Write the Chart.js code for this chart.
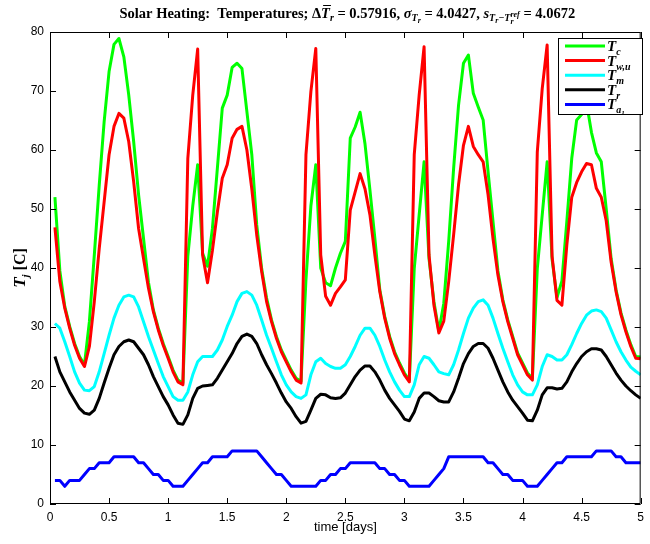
<!DOCTYPE html>
<html>
<head>
<meta charset="utf-8">
<script src="https://cdn.jsdelivr.net/npm/chart.js@4/dist/chart.umd.min.js"></script>
<style>
  html, body { margin: 0; padding: 0; background: #fff; }
  #wrap { width: 650px; height: 544px; }
</style>
</head>
<body>
<div id="wrap"><canvas id="tempChart" width="650" height="544"></canvas></div>
<script>
// hourly samples, 1 h .. 120 h (in days)
const timeDays = Array.from({ length: 120 }, (_, i) => (i + 1) / 24);

const seriesNames = ['c', 'w,u', 'm', 'r', 'a1'];

const tc = [
  52.0, 39.5, 33.5, 30.1, 27.2, 25.0, 23.6, 30.9, 42.2, 54.0,
  64.8, 73.3, 77.9, 78.9, 75.8, 69.3, 61.4, 52.4, 45.0, 37.6,
  32.9, 29.8, 27.2, 25.0, 22.7, 21.0, 20.5, 42.0, 50.5, 57.5,
  42.5, 40.3, 46.7, 56.9, 67.1, 69.3, 74.0, 74.7, 73.8, 66.5,
  59.2, 47.3, 39.9, 34.9, 31.2, 28.4, 26.1, 24.4, 22.7, 21.3,
  20.8, 38.0, 50.5, 57.5, 40.0, 37.5, 37.0, 40.0, 42.5, 44.5,
  62.0, 63.9, 66.4, 61.0, 53.2, 45.0, 36.3, 31.8, 28.4, 25.8,
  23.9, 22.2, 21.0, 39.9, 49.0, 58.0, 41.6, 34.3, 29.3, 34.0,
  44.5, 56.9, 67.6, 74.7, 76.1, 69.6, 67.3, 65.1, 56.3, 47.9,
  39.5, 34.6, 31.2, 28.4, 25.6, 23.9, 22.2, 21.3, 39.9, 49.0,
  58.0, 41.5, 35.0, 37.8, 47.9, 58.6, 65.1, 66.0, 68.0, 63.0,
  59.5, 58.0, 50.0, 41.6, 36.3, 32.4, 29.5, 27.0, 25.0, 24.9
];

const twu = [
  46.9, 37.7, 33.2, 29.8, 26.9, 24.7, 23.3, 26.7, 34.3, 43.3,
  51.2, 59.2, 64.0, 66.2, 65.4, 61.4, 54.6, 46.7, 41.6, 36.6,
  32.6, 29.5, 26.9, 24.7, 22.4, 20.7, 20.2, 58.6, 69.3, 77.1,
  42.2, 37.5, 43.0, 49.5, 55.2, 57.5, 62.0, 63.5, 64.0, 60.0,
  53.4, 45.6, 39.4, 34.3, 30.9, 28.1, 25.8, 24.1, 22.4, 21.0,
  20.5, 59.2, 69.9, 77.2, 42.2, 35.2, 33.7, 35.7, 36.8, 38.0,
  49.8, 52.9, 56.0, 53.4, 49.0, 42.2, 36.0, 31.5, 28.1, 25.5,
  23.6, 21.9, 20.7, 59.2, 69.3, 77.5, 42.2, 33.7, 29.0, 31.0,
  37.7, 45.6, 54.1, 60.8, 64.0, 60.6, 59.2, 58.0, 52.4, 45.0,
  38.8, 34.3, 30.9, 28.1, 25.3, 23.6, 21.9, 21.0, 59.7, 70.4,
  77.8, 42.0, 34.5, 33.7, 43.9, 52.0, 54.5, 56.3, 57.7, 57.5,
  53.5, 52.0, 48.0, 41.0, 36.0, 32.1, 29.2, 26.7, 24.7, 24.6
];

const tm = [
  30.6, 29.8, 27.5, 25.0, 22.4, 20.5, 19.3, 19.2, 19.9, 22.4,
  25.5, 28.6, 31.5, 33.7, 35.1, 35.4, 35.1, 33.4, 30.9, 28.4,
  26.1, 23.8, 21.6, 19.9, 18.2, 17.6, 17.6, 19.0, 21.9, 24.1,
  25.0, 25.0, 25.0, 26.1, 27.8, 30.1, 32.0, 34.3, 35.7, 36.0,
  35.4, 33.7, 31.2, 28.6, 26.4, 24.1, 21.9, 20.2, 19.0, 18.2,
  17.9, 18.5, 21.9, 24.1, 24.7, 23.8, 23.3, 23.0, 23.0, 23.6,
  25.0, 26.7, 28.6, 29.8, 29.8, 28.6, 26.7, 24.4, 22.4, 20.7,
  19.3, 18.2, 18.2, 20.2, 23.6, 25.0, 24.7, 23.6, 22.4, 22.1,
  21.9, 23.6, 26.1, 28.9, 31.5, 33.2, 34.3, 34.6, 33.7, 31.5,
  28.9, 26.4, 24.1, 21.9, 20.2, 19.0, 18.5, 18.5, 20.2, 23.3,
  25.3, 25.0, 24.4, 24.4, 25.3, 27.0, 28.9, 30.6, 32.0, 32.7,
  32.9, 32.6, 31.5, 29.5, 27.5, 25.8, 24.4, 23.2, 22.5, 21.9
];

const tr = [
  25.0, 22.4, 20.7, 19.0, 17.6, 16.2, 15.4, 15.2, 15.9, 17.9,
  20.5, 23.0, 25.3, 26.7, 27.5, 27.8, 27.5, 26.4, 25.3, 23.6,
  21.6, 19.9, 18.2, 16.8, 15.1, 13.7, 13.5, 15.1, 17.9, 19.6,
  20.0, 20.1, 20.2, 21.3, 22.7, 24.1, 25.5, 27.2, 28.4, 28.8,
  28.4, 27.2, 25.3, 23.6, 22.1, 20.5, 18.8, 17.3, 16.2, 14.8,
  13.7, 14.0, 15.9, 17.9, 18.6, 18.5, 18.0, 17.9, 18.0, 18.8,
  20.2, 21.6, 22.7, 23.4, 23.4, 22.4, 21.0, 19.3, 17.9, 16.8,
  15.7, 14.4, 14.1, 15.6, 17.9, 18.8, 18.8, 18.2, 17.5, 17.3,
  17.3, 19.0, 21.3, 23.8, 25.5, 26.7, 27.2, 27.2, 26.4, 24.7,
  22.7, 20.7, 19.0, 17.6, 16.5, 15.4, 14.2, 14.1, 15.9, 18.5,
  19.7, 19.7, 19.5, 19.6, 20.7, 22.4, 23.8, 25.0, 25.8, 26.3,
  26.3, 26.1, 25.0, 23.6, 22.2, 21.0, 20.0, 19.2, 18.5, 17.9
];

const ta1 = [
  4, 4, 3, 4, 4, 4, 5, 6, 6, 7,
  7, 7, 8, 8, 8, 8, 8, 7, 7, 6,
  5, 5, 4, 4, 3, 3, 3, 4, 5, 6,
  7, 7, 8, 8, 8, 8, 9, 9, 9, 9,
  9, 9, 8, 7, 6, 5, 5, 4, 3, 3,
  3, 3, 3, 3, 4, 4, 5, 5, 6, 6,
  7, 7, 7, 7, 7, 7, 6, 6, 5, 5,
  4, 4, 3, 3, 3, 3, 3, 4, 5, 6,
  8, 8, 8, 8, 8, 8, 8, 8, 7, 7,
  6, 5, 5, 4, 4, 4, 3, 3, 3, 4,
  5, 6, 7, 7, 8, 8, 8, 8, 8, 8,
  9, 9, 9, 9, 8, 8, 7, 7, 7, 7
];

const yTicks = [0, 10, 20, 30, 40, 50, 60, 70, 80];
const xTicks = [0, 0.5, 1, 1.5, 2, 2.5, 3, 3.5, 4, 4.5, 5];

const colors = ['#00ff00', '#ff0000', '#00ffff', '#000000', '#0000ff'];
const allSeries = [tc, twu, tm, tr, ta1];

const SERIF = "'Liberation Serif', 'DejaVu Serif', serif";
const SANS = "'Liberation Sans', Arial, sans-serif";

function toPoints(vals) {
  return vals.map((v, i) => ({ x: timeDays[i], y: v }));
}

// lay out a list of text runs (for sub/superscripts)
function layoutRuns(ctx, runs) {
  let x = 0, prevStart = 0, prevW = 0;
  const placed = [];
  for (const r of runs) {
    ctx.font = r.f;
    const w = ctx.measureText(r.t).width;
    let sx;
    if (r.over) {
      sx = prevStart;
      x = Math.max(prevStart + prevW, sx + w);
    } else {
      sx = x;
      x += w;
    }
    placed.push(Object.assign({}, r, { x: sx, w: w }));
    prevStart = sx; prevW = w;
  }
  return { placed: placed, width: x };
}

function drawRuns(ctx, runs, x0, y0, align) {
  const lay = layoutRuns(ctx, runs);
  let ox = x0;
  if (align === 'center') ox = x0 - lay.width / 2;
  ctx.fillStyle = '#000';
  ctx.textBaseline = 'alphabetic';
  ctx.textAlign = 'left';
  for (const r of lay.placed) {
    ctx.font = r.f;
    ctx.fillText(r.t, ox + r.x, y0 + (r.dy || 0));
    if (r.bar) {
      ctx.beginPath();
      ctx.lineWidth = 1;
      ctx.strokeStyle = '#000';
      ctx.moveTo(ox + r.x + 2, y0 - 12.5);
      ctx.lineTo(ox + r.x + r.w + 1, y0 - 12.5);
      ctx.stroke();
    }
  }
}

const B13 = 'bold 14.5px ' + SERIF;
const BI13 = 'bold italic 14.5px ' + SERIF;
const BI9 = 'bold italic 10px ' + SERIF;
const BI7 = 'bold italic 8px ' + SERIF;

const titleRuns = [
  { t: 'Solar Heating:  Temperatures; ', f: B13 },
  { t: '\u0394', f: B13 },
  { t: 'T', f: BI13, bar: true },
  { t: 'r', f: BI9, dy: 3 },
  { t: ' = 0.57916, ', f: B13 },
  { t: '\u03c3', f: BI13 },
  { t: 'T', f: BI9, dy: 3 },
  { t: 'r', f: BI7, dy: 5 },
  { t: ' = 4.0427, ', f: B13 },
  { t: 's', f: BI13 },
  { t: 'T', f: BI9, dy: 3 },
  { t: 'r', f: BI7, dy: 5 },
  { t: '\u2212T', f: BI9, dy: 3 },
  { t: 'ref', f: BI7, dy: -1 },
  { t: 'r', f: BI7, dy: 6, over: true },
  { t: ' = 4.0672', f: B13 }
];

const decorPlugin = {
  id: 'decor',
  afterDatasetsDraw(chart) {
    const ctx = chart.ctx;
    const a = chart.chartArea;
    const xs = chart.scales.x, ys = chart.scales.y;
    ctx.save();
    ctx.strokeStyle = '#000';
    ctx.lineWidth = 1;
    ctx.beginPath();
    ctx.rect(a.left + 0.5, a.top + 0.5, a.right - a.left - 1, a.bottom - a.top - 1);
    // inside ticks on all four sides
    xTicks.forEach(v => {
      const px = Math.round(xs.getPixelForValue(v)) + 0.5;
      ctx.moveTo(px, a.bottom); ctx.lineTo(px, a.bottom - 6);
      ctx.moveTo(px, a.top); ctx.lineTo(px, a.top + 6);
    });
    yTicks.forEach(v => {
      const py = Math.round(ys.getPixelForValue(v)) + 0.5;
      ctx.moveTo(a.left, py); ctx.lineTo(a.left + 6, py);
      ctx.moveTo(a.right, py); ctx.lineTo(a.right - 6, py);
    });
    ctx.stroke();
    ctx.restore();
  },
  afterDraw(chart) {
    const ctx = chart.ctx;
    const a = chart.chartArea;
    ctx.save();
    // title
    drawRuns(ctx, titleRuns, (a.left + a.right) / 2 + 2, 18, 'center');

    // y axis label, rotated
    ctx.save();
    ctx.translate(25, (a.top + a.bottom) / 2);
    ctx.rotate(-Math.PI / 2);
    drawRuns(ctx, [
      { t: 'T', f: 'bold italic 17px ' + SERIF },
      { t: 'j', f: 'bold italic 11px ' + SERIF, dy: 4 },
      { t: ' [C]', f: 'bold 16px ' + SERIF }
    ], 0, 0, 'center');
    ctx.restore();

    // legend box inside the axes (top right)
    const lx = 558, ly = 38, lw = 84, lh = 76;
    ctx.fillStyle = '#fff';
    ctx.fillRect(lx, ly, lw, lh);
    ctx.strokeStyle = '#000';
    ctx.lineWidth = 1;
    ctx.strokeRect(lx + 0.5, ly + 0.5, lw, lh);
    const subs = [
      [{ t: 'c', dy: 4 }],
      [{ t: 'w,u', dy: 4 }],
      [{ t: 'm', dy: 4 }],
      [{ t: 'r', dy: 4 }],
      [{ t: 'a', dy: 4 }, { t: '1', dy: 6, small: true }]
    ];
    for (let i = 0; i < 5; i++) {
      const y = 46 + i * 14.6;
      ctx.beginPath();
      ctx.strokeStyle = colors[i];
      ctx.lineWidth = 3;
      ctx.moveTo(565, y); ctx.lineTo(605, y);
      ctx.stroke();
      const runs = [{ t: 'T', f: 'bold italic 15px ' + SERIF, dy: 0 }];
      subs[i].forEach(s => runs.push({ t: s.t, f: 'bold italic ' + (s.small ? 7 : 10) + 'px ' + SERIF, dy: s.dy }));
      drawRuns(ctx, runs, 607, y + 5, 'left');
    }
    ctx.restore();
  }
};

const datasets = allSeries.map((vals, i) => ({
  label: 'T_' + seriesNames[i],
  data: toPoints(vals),
  borderColor: colors[i],
  backgroundColor: colors[i],
  borderWidth: 3,
  pointRadius: 0,
  tension: 0,
  fill: false,
  borderJoinStyle: 'round',
  order: 5 - i
}));

const ctx = document.getElementById('tempChart').getContext('2d');
const tempChart = new Chart(ctx, {
  type: 'line',
  data: { datasets: datasets },
  options: {
    responsive: false,
    animation: false,
    layout: { padding: { top: 32, right: 1, left: 0, bottom: 0 } },
    plugins: {
      legend: { display: false },
      title: { display: false },
      tooltip: { enabled: false }
    },
    scales: {
      x: {
        type: 'linear',
        min: 0,
        max: 5,
        afterBuildTicks(scale) { scale.ticks = xTicks.map(v => ({ value: v })); },
        ticks: {
          color: '#000',
          font: { family: SANS, size: 12 },
          padding: 6,
          maxRotation: 0,
          callback: v => String(v)
        },
        grid: { display: false, drawTicks: false },
        border: { display: false },
        title: {
          display: true,
          text: 'time [days]',
          color: '#000',
          font: { family: SANS, size: 13 },
          padding: { top: 0, bottom: 9 }
        },
        afterFit(scale) { scale.height = 40; }
      },
      y: {
        min: 0,
        max: 80,
        afterBuildTicks(scale) { scale.ticks = yTicks.map(v => ({ value: v })); },
        ticks: {
          color: '#000',
          font: { family: SANS, size: 12 },
          padding: 6,
          callback: v => String(v)
        },
        grid: { display: false, drawTicks: false },
        border: { display: false },
        afterFit(scale) { scale.width = 50; }
      }
    }
  },
  plugins: [decorPlugin]
});
</script>
</body>
</html>
